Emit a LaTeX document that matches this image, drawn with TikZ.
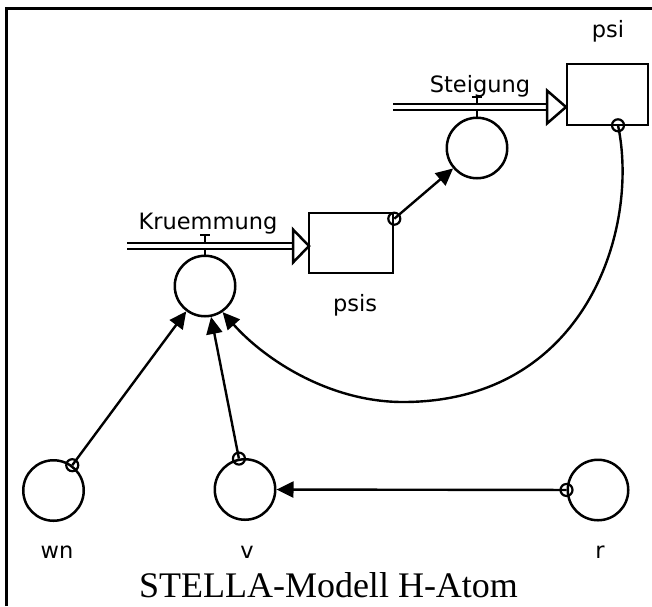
\documentclass[tikz,border=0pt]{standalone}
\usepackage{fontspec}
\setmainfont{Liberation Serif}
\newfontfamily\labfont{DejaVu Sans}
\usetikzlibrary{arrows.meta}
\begin{document}
\begin{tikzpicture}[x=1pt,y=-1pt,
  stock/.style={draw,line width=2.6pt,minimum width=82pt,minimum height=61pt,inner sep=0pt},
  conv/.style={draw,circle,line width=2.5pt,minimum size=60.5pt,inner sep=0pt},
  lab/.style={anchor=base,inner sep=0pt,font=\labfont\fontsize{22.5}{24}\selectfont},
  pipe/.style={line width=2.5pt,double=white,double distance=3.5pt},
  conn/.style={line width=2.4pt,-{Triangle[length=17pt,width=16pt]}},
  tap/.style={line width=2.2pt},
  valve/.style={line width=2.4pt},
  inflow/.style={line width=2.5pt,fill=white,line join=miter}
]
\useasboundingbox (0,0) rectangle (652,606);
% frame
\draw[line width=3.2pt,line join=miter] (6.5,606) -- (6.5,8.3) -- (652,8.3);

% stocks and converters
\node[stock,minimum width=81pt] (psi) at (607.5,94.5) {};
\node[stock,minimum width=84pt,minimum height=60pt] (psis) at (351,243) {};
\node[conv] (steig) at (477,148) {};
\node[conv] (krue) at (205,286) {};
\node[conv] (wn) at (53.5,490.5) {};
\node[conv] (v) at (245,489.5) {};
\node[conv] (r) at (598,490) {};

% valves
\coordinate (steigvalve) at (477,97);
\draw[valve] ([xshift=-5pt]steigvalve) -- ([xshift=5pt]steigvalve);
\draw[valve] (steigvalve) -- (steig.north);
\coordinate (kruevalve) at (205,235);
\draw[valve] ([xshift=-5pt]kruevalve) -- ([xshift=5pt]kruevalve);
\draw[valve] (kruevalve) -- (krue.north);

% flows
\coordinate (steigsrc) at (393,107);
\coordinate (steigend) at (548,107);
\draw[pipe] (steigsrc) -- (steigend);
\draw[inflow] (547,90.5) -- (566,107) -- (547,123.5) -- cycle;
\coordinate (kruesrc) at (127,246);
\coordinate (kruend) at (294,246);
\draw[pipe] (kruesrc) -- (kruend);
\draw[inflow] (293,229.5) -- (309,246) -- (293,262.5) -- cycle;

% connectors
\draw[conn] (wn) -- (krue) coordinate[pos=0] (wnout);
\draw[tap] (wnout) circle (6pt);
\draw[conn] (v) -- (krue) coordinate[pos=0] (vout);
\draw[tap] (vout) circle (6pt);
\draw[conn] (r) -- (v) coordinate[pos=0] (rout);
\draw[tap] (rout) circle (6pt);
\coordinate (psisout) at ([yshift=-7pt]psis.north east);
\draw[conn] (psisout) -- (steig);
\draw[tap] (psisout) circle (6pt);
\coordinate (psiout) at ([xshift=10.5pt,yshift=1pt]psi.south);
\coordinate (lowpt) at (403,402);
\draw[conn] (psiout) .. controls (640,230) and (585,402) .. (lowpt) .. controls (330,402) and (265,360) .. (krue.-56);
\draw[tap] (psiout) circle (6pt);

% labels
\node[lab] (lsteig) at (480,92) {Steigung};
\node[lab] (lkrue) at (208,229.5) {Kruemmung};
\node[lab] (lpsi) at (608,37) {psi};
\node[lab] (lpsis) at (355,311) {psis};
\node[lab] (lwn) at (57,558) {wn};
\node[lab] (lv) at (247,558) {v};
\node[lab] (lr) at (600,558) {r};
\node[anchor=base,inner sep=0pt,font=\fontsize{36}{40}\selectfont] (title) at (328.5,597) {STELLA-Modell H-Atom};
\end{tikzpicture}
\end{document}
